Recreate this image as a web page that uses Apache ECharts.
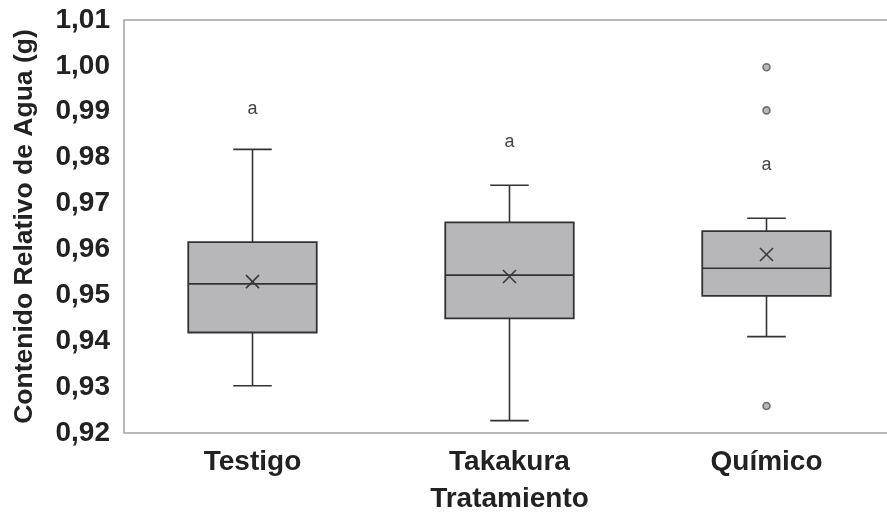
<!DOCTYPE html>
<html>
<head>
<meta charset="utf-8">
<script src="https://cdn.jsdelivr.net/npm/echarts@6/dist/echarts.min.js"></script>
<style>
  html, body { margin: 0; padding: 0; background: #fff; }
  #chart { width: 887px; height: 517px; }
</style>
</head>
<body>
<div id="chart"></div>
<script>
// Treatments and box statistics of relative water content
const categories = ['Testigo', 'Takakura', 'Químico'];
const minVals    = [0.9303, 0.9227, 0.9410];
const q1Vals     = [0.9419, 0.9450, 0.9499];
const medianVals = [0.9525, 0.9544, 0.9559];
const q3Vals     = [0.9616, 0.9659, 0.9640];
const maxVals    = [0.9818, 0.9740, 0.9668];
const meanVals   = [0.9530, 0.9541, 0.9589];
// Outliers as [category index, value]
const outliers = [[2, 0.9997], [2, 0.9903], [2, 0.9259]];
// Significance letters and the height they sit at
const letters   = ['a', 'a', 'a'];
const letterPos = [0.9906, 0.9835, 0.9784];
// Y axis range
const yMin = 0.92, yMax = 1.01, yStep = 0.01;

const FONT = '"Liberation Sans", Arial, Helvetica, sans-serif';
const EDGE = '#333333';

const boxData = categories.map((c, i) => [i, minVals[i], q1Vals[i], medianVals[i], q3Vals[i], maxVals[i]]);
const meanData = categories.map((c, i) => [i, meanVals[i]]);
const letterData = categories.map((c, i) => [i, letterPos[i], letters[i]]);

const chart = echarts.init(document.getElementById('chart'), null, { renderer: 'canvas' });

chart.setOption({
  backgroundColor: '#ffffff',
  animation: false,
  grid: {
    left: 124, top: 20, width: 771, height: 413,
    outerBoundsMode: 'none',
    containLabel: false,
    show: true, borderColor: '#a3a3a8', borderWidth: 1.5, backgroundColor: 'transparent'
  },
  xAxis: {
    type: 'category',
    data: categories,
    boundaryGap: true,
    axisLine: { show: false },
    axisTick: { show: false },
    splitLine: { show: false },
    axisLabel: { margin: 15, fontSize: 28, fontWeight: 'bold', color: '#222', fontFamily: FONT },
    name: 'Tratamiento',
    nameLocation: 'middle',
    nameGap: 52,
    nameTextStyle: { fontSize: 28, fontWeight: 'bold', color: '#222', fontFamily: FONT }
  },
  yAxis: {
    type: 'value',
    min: yMin, max: yMax, interval: yStep,
    axisLine: { show: false },
    axisTick: { show: false },
    splitLine: { show: false },
    axisLabel: {
      margin: 14, fontSize: 28, fontWeight: 'bold', color: '#222', fontFamily: FONT,
      padding: [4, 0, 0, 0],
      formatter: v => v.toFixed(2).replace('.', ',')
    },
    name: 'Contenido Relativo de Agua (g)',
    nameLocation: 'middle',
    nameGap: 86,
    nameTextStyle: { fontSize: 26.5, fontWeight: 'bold', color: '#222', fontFamily: FONT }
  },
  series: [
    {
      // boxes with whiskers and narrow caps
      type: 'custom',
      data: boxData,
      encode: { x: 0, y: [1, 2, 3, 4, 5] },
      renderItem: function (params, api) {
        const i = api.value(0);
        const band = api.size([1, 0])[0];
        const hw = band * 0.25;
        const cw = band * 0.075;
        const pMin = api.coord([i, api.value(1)]);
        const pQ1 = api.coord([i, api.value(2)]);
        const pMed = api.coord([i, api.value(3)]);
        const pQ3 = api.coord([i, api.value(4)]);
        const pMax = api.coord([i, api.value(5)]);
        const x = pMed[0];
        const ls = { stroke: EDGE, lineWidth: 1.6 };
        return {
          type: 'group',
          children: [
            { type: 'line', shape: { x1: x, y1: pQ3[1], x2: x, y2: pMax[1] }, style: ls },
            { type: 'line', shape: { x1: x, y1: pQ1[1], x2: x, y2: pMin[1] }, style: ls },
            { type: 'line', shape: { x1: x - cw, y1: pMax[1], x2: x + cw, y2: pMax[1] }, style: ls },
            { type: 'line', shape: { x1: x - cw, y1: pMin[1], x2: x + cw, y2: pMin[1] }, style: ls },
            {
              type: 'rect',
              shape: { x: x - hw, y: pQ3[1], width: hw * 2, height: pQ1[1] - pQ3[1] },
              style: { fill: '#b7b7ba', stroke: EDGE, lineWidth: 1.8 }
            },
            { type: 'line', shape: { x1: x - hw, y1: pMed[1], x2: x + hw, y2: pMed[1] }, style: ls }
          ]
        };
      }
    },
    {
      // mean markers drawn as a cross
      type: 'custom',
      data: meanData,
      encode: { x: 0, y: 1 },
      z: 5,
      renderItem: function (params, api) {
        const p = api.coord([api.value(0), api.value(1)]);
        const s = 6.5;
        const st = { stroke: '#3a3a3a', lineWidth: 1.6 };
        return {
          type: 'group',
          children: [
            { type: 'line', shape: { x1: p[0] - s, y1: p[1] - s, x2: p[0] + s, y2: p[1] + s }, style: st },
            { type: 'line', shape: { x1: p[0] - s, y1: p[1] + s, x2: p[0] + s, y2: p[1] - s }, style: st }
          ]
        };
      }
    },
    {
      type: 'scatter',
      data: outliers,
      symbol: 'circle',
      symbolSize: 7,
      itemStyle: { color: '#a5a5a8', borderColor: '#555', borderWidth: 1.6 },
      z: 4
    },
    {
      // significance letters above each box
      type: 'custom',
      data: letterData,
      encode: { x: 0, y: 1 },
      renderItem: function (params, api) {
        const p = api.coord([api.value(0), api.value(1)]);
        return {
          type: 'text',
          x: p[0], y: p[1],
          style: {
            text: letters[params.dataIndex],
            fill: '#444',
            fontSize: 18,
            fontFamily: FONT,
            textAlign: 'center',
            textVerticalAlign: 'middle',
            align: 'center',
            verticalAlign: 'middle'
          }
        };
      }
    }
  ]
});
</script>
</body>
</html>
